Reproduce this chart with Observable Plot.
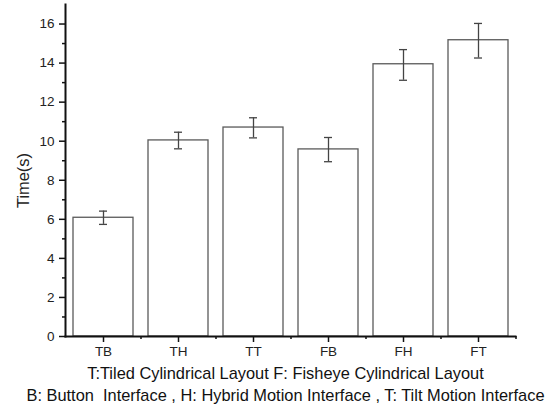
<!DOCTYPE html>
<html>
<head>
<meta charset="utf-8">
<script src="https://cdn.jsdelivr.net/npm/d3@7"></script>
<script src="https://cdn.jsdelivr.net/npm/@observablehq/plot@0.6"></script>
<style>
  body { margin: 0; background: #fff; font-family: "Liberation Sans", Arial, sans-serif; }
  #cap { width: 549px; text-align: center; font-size: 16.4px; line-height: 22px; color: #111; margin-top: 0; margin-left: 11px; }
  #cap div { white-space: pre; }
</style>
</head>
<body>
<div id="chart"></div>
<div id="cap">
  <div>T:Tiled Cylindrical Layout F: Fisheye Cylindrical Layout</div>
  <div>B: Button  Interface , H: Hybrid Motion Interface , T: Tilt Motion Interface</div>
</div>
<script>
const categories = ["TB", "TH", "TT", "FB", "FH", "FT"];
const means = [6.08, 10.04, 10.70, 9.58, 13.94, 15.17];
const errLow = [5.74, 9.61, 10.17, 8.95, 13.12, 14.26];
const errHigh = [6.42, 10.46, 11.20, 10.19, 14.69, 16.03];
const yMajorTicks = [0, 2, 4, 6, 8, 10, 12, 14, 16];
const yMinorTicks = [1, 3, 5, 7, 9, 11, 13, 15];

const data = categories.map((c, i) => ({cat: c, mean: means[i], lo: errLow[i], hi: errHigh[i]}));

const chart = Plot.plot({
  width: 549,
  height: 362,
  marginLeft: 65,
  marginRight: 34,
  marginTop: 4,
  marginBottom: 26,
  style: {fontFamily: "Liberation Sans, Arial, sans-serif", fontSize: "13.5px", color: "#222", background: "#fff"},
  x: {domain: categories, paddingInner: 0.2, paddingOuter: 0.1, label: null},
  y: {domain: [0, 17], label: null},
  marks: [
    Plot.barY(data, {x: "cat", y: "mean", fill: "white", stroke: "#5a5a5a", strokeWidth: 1.3}),
    Plot.ruleX(data, {x: "cat", y1: "lo", y2: "hi", stroke: "#444", strokeWidth: 1.3}),
    Plot.tickY(data, {x: "cat", y: "lo", insetLeft: 26, insetRight: 26, stroke: "#444", strokeWidth: 1.3}),
    Plot.tickY(data, {x: "cat", y: "hi", insetLeft: 26, insetRight: 26, stroke: "#444", strokeWidth: 1.3}),
    Plot.axisY({ticks: yMajorTicks, tickSize: 6, tickPadding: 5, label: null, strokeWidth: 1.5, stroke: "#111", fontSize: 13.5}),
    Plot.axisY({ticks: yMinorTicks, tickSize: 3, text: null, label: null, strokeWidth: 1.5, stroke: "#111"}),
    Plot.axisX({tickSize: 6, tickPadding: 4, label: null, strokeWidth: 1.5, stroke: "#111", fontSize: 13.5}),
    Plot.axisX({tickSize: 3, dx: 37.5, text: null, label: null, strokeWidth: 1.5, stroke: "#111"}),
    Plot.frame({anchor: "left", stroke: "#111", strokeWidth: 2}),
    Plot.frame({anchor: "bottom", stroke: "#111", strokeWidth: 2}),
    Plot.text(["Time(s)"], {frameAnchor: "left", rotate: -90, textAnchor: "middle", dx: -42, dy: 10, fontSize: 16.4, fill: "#222"})
  ]
});
document.getElementById("chart").appendChild(chart);
</script>
</body>
</html>
